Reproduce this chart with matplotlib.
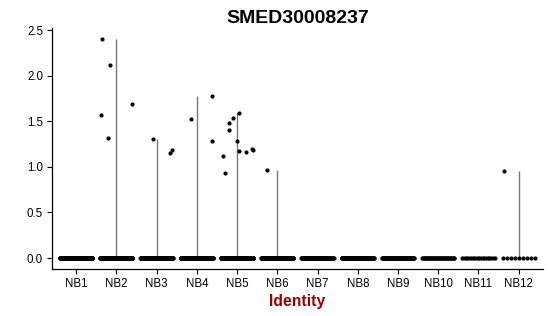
import numpy as np
import matplotlib
matplotlib.use("Agg")
import matplotlib.pyplot as plt

plt.rcParams['font.family'] = ['Liberation Sans', 'DejaVu Sans']

# donnees
groupes = ['NB1', 'NB2', 'NB3', 'NB4', 'NB5', 'NB6',
           'NB7', 'NB8', 'NB9', 'NB10', 'NB11', 'NB12']
n_zero = [300, 300, 300, 300, 300, 200, 160, 160, 90, 45, 20, 9]

expr_nb2 = [2.40, 2.12, 1.57, 1.32, 1.69]
expr_nb3 = [1.30, 1.19, 1.15]
expr_nb4 = [1.52, 1.78, 1.28]
expr_nb5 = [1.12, 0.93, 1.40, 1.48, 1.53, 1.59, 1.28, 1.17, 1.16, 1.20, 1.19]
expr_nb6 = [0.97]
expr_nb12 = [0.95]

# jitter des points non nuls (decalage horizontal)
jit_nb2 = [-0.36, -0.15, -0.38, -0.20, 0.39]
jit_nb3 = [-0.10, 0.38, 0.34]
jit_nb4 = [-0.14, 0.37, 0.37]
jit_nb5 = [-0.35, -0.29, -0.20, -0.20, -0.10, 0.06, 0.0, 0.06, 0.22, 0.38, 0.40]
jit_nb6 = [-0.26]
jit_nb12 = [-0.37]

non_nuls = {'NB2': (expr_nb2, jit_nb2), 'NB3': (expr_nb3, jit_nb3),
            'NB4': (expr_nb4, jit_nb4), 'NB5': (expr_nb5, jit_nb5),
            'NB6': (expr_nb6, jit_nb6), 'NB12': (expr_nb12, jit_nb12)}

fig = plt.figure(figsize=(5.5, 3.16), dpi=100)
ax = fig.add_axes([0.0945, 0.1487, 0.8925, 0.7621])

# "violons" : lignes de 0 au max
for i, g in enumerate(groupes):
    pos = i + 1
    if g in non_nuls:
        vals = non_nuls[g][0]
        ax.vlines(pos, 0, max(vals), color='#777777', lw=1.0, zorder=1)

# points
for i, g in enumerate(groupes):
    pos = i + 1
    x0 = pos + np.linspace(-0.4, 0.4, n_zero[i])
    ax.scatter(x0, np.zeros(n_zero[i]), s=9, c='black', lw=0, zorder=2)
    if g in non_nuls:
        vals, jit = non_nuls[g]
        ax.scatter(pos + np.array(jit), vals, s=9, c='black', lw=0, zorder=3)

ax.set_xlim(0.4, 12.6)
ax.set_ylim(-0.12, 2.52)
ax.set_xticks(range(1, 13))
ax.set_xticklabels(groupes)
ax.set_yticks([0, 0.5, 1.0, 1.5, 2.0, 2.5])
ax.set_yticklabels(['0.0', '0.5', '1.0', '1.5', '2.0', '2.5'])
ax.tick_params(labelsize=8.3, length=3.5, width=0.8, color='black', pad=3)

for s in ['top', 'right']:
    ax.spines[s].set_visible(False)
for s in ['left', 'bottom']:
    ax.spines[s].set_linewidth(0.9)

ax.set_title('SMED30008237', fontsize=14, fontweight='bold', pad=4)
ax.set_xlabel('Identity', fontsize=11.3, fontweight='bold', color='#990000', labelpad=3)

fig.savefig('out.png', dpi=100)
